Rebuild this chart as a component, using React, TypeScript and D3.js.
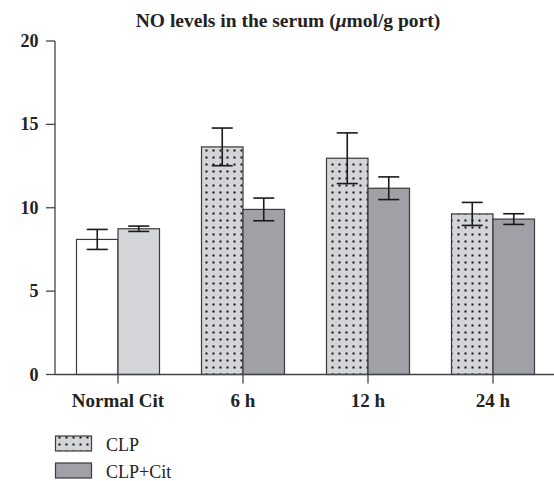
import React from "react";
import * as d3 from "d3";

const categories = ["Normal Cit", "6 h", "12 h", "24 h"];
// [first bar, second bar] per category
const firstValues = [8.1, 13.65, 12.97, 9.63];
const firstErrors = [0.6, 1.13, 1.52, 0.69];
const secondValues = [8.74, 9.9, 11.17, 9.32];
const secondErrors = [0.16, 0.68, 0.68, 0.32];
const yTicks = [0, 5, 10, 15, 20];
const legendLabels = ["CLP", "CLP+Cit"];

const W = 554;
const H = 481;
const FONT = "'Liberation Serif', 'Times New Roman', serif";

export default function App() {
  const x = d3.scaleBand<string>().domain(categories).range([55.5, 555.5]).padding(0);
  const y = d3.scaleLinear().domain([0, 20]).range([374.5, 41]);
  const barW = 41.5;
  const axisX = 55;

  const fillFirst = (i: number) => (i === 0 ? "#ffffff" : "url(#dots)");
  const fillSecond = (i: number) => (i === 0 ? "#d4d5d8" : "#9fa1a7");

  const errBar = (cx: number, v: number, e: number, key: string) => (
    <g key={key} stroke="#1a1a1a" strokeWidth={1.6}>
      <line x1={cx} x2={cx} y1={y(v + e)} y2={y(v - e)} />
      <line x1={cx - 10.5} x2={cx + 10.5} y1={y(v + e)} y2={y(v + e)} />
      <line x1={cx - 10.5} x2={cx + 10.5} y1={y(v - e)} y2={y(v - e)} />
    </g>
  );

  return (
    <svg width={W} height={H} style={{ position: "absolute", left: 0, top: 0, background: "#fff" }}>
      <defs>
        <pattern id="dots" patternUnits="userSpaceOnUse" width={7} height={7} x={0} y={0}>
          <rect width={7} height={7} fill="#d4d5d8" />
          <rect x={2.5} y={2.5} width={2} height={2} fill="#111" />
        </pattern>
      </defs>
      <text x={288} y={27} textAnchor="middle" fontFamily={FONT} fontWeight="bold" fontSize={19.5} fill="#222">
        NO levels in the serum (<tspan fontStyle="italic">μ</tspan>mol/g port)
      </text>

      {categories.map((c, i) => {
        const cx = (x(c) as number) + x.bandwidth() / 2;
        return (
          <g key={c}>
            <rect x={cx - barW} y={y(firstValues[i])} width={barW} height={y(0) - y(firstValues[i])}
              fill={fillFirst(i)} stroke="#3a3a3a" strokeWidth={1.2} />
            <rect x={cx} y={y(secondValues[i])} width={barW} height={y(0) - y(secondValues[i])}
              fill={fillSecond(i)} stroke="#3a3a3a" strokeWidth={1.2} />
          </g>
        );
      })}
      {categories.map((c, i) => {
        const cx = (x(c) as number) + x.bandwidth() / 2;
        return (
          <g key={c + "e"}>
            {errBar(cx - barW / 2, firstValues[i], firstErrors[i], "a")}
            {errBar(cx + barW / 2, secondValues[i], secondErrors[i], "b")}
          </g>
        );
      })}

      {/* y axis */}
      <line x1={axisX} x2={axisX} y1={y(20)} y2={y(0)} stroke="#444" strokeWidth={1.3} />
      {yTicks.map((t) => (
        <g key={t}>
          <line x1={axisX - 9} x2={axisX} y1={y(t)} y2={y(t)} stroke="#444" strokeWidth={1.3} />
          <text x={38.5} y={y(t) + 6} textAnchor="end" fontFamily={FONT} fontWeight="bold" fontSize={18} fill="#222">
            {t}
          </text>
        </g>
      ))}

      {/* x axis */}
      <line x1={axisX} x2={W} y1={y(0)} y2={y(0)} stroke="#444" strokeWidth={1.3} />
      {categories.map((c) => {
        const cx = (x(c) as number) + x.bandwidth() / 2;
        return (
          <g key={c + "t"}>
            <line x1={cx} x2={cx} y1={y(0)} y2={y(0) + 9} stroke="#444" strokeWidth={1.3} />
            <text x={cx} y={y(0) + 32} textAnchor="middle" fontFamily={FONT} fontWeight="bold" fontSize={19} fill="#222">
              {c}
            </text>
          </g>
        );
      })}

      {/* legend */}
      {legendLabels.map((l, i) => (
        <g key={l}>
          <rect x={55.5} y={436 + i * 27} width={36} height={15}
            fill={i === 0 ? "url(#dots)" : "#9fa1a7"} stroke="#3a3a3a" strokeWidth={1.2} />
          <text x={106} y={451 + i * 27} fontFamily={FONT} fontSize={18} fill="#222">{l}</text>
        </g>
      ))}
    </svg>
  );
}
